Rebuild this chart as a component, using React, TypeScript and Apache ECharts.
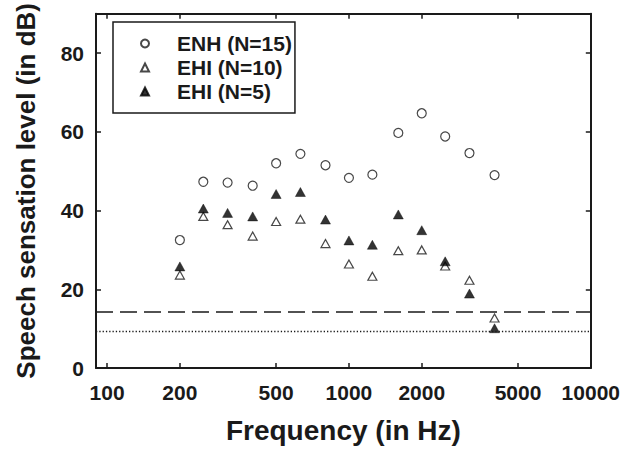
import React, { useEffect, useRef } from "react";
import * as echarts from "echarts";

// ---- Data ----
const FREQUENCIES_HZ = [200, 250, 315, 400, 500, 630, 800, 1000, 1250, 1600, 2000, 2500, 3150, 4000];
const ENH_N15 = [32.5, 47.3, 47.1, 46.3, 52.0, 54.4, 51.5, 48.3, 49.1, 59.7, 64.7, 58.8, 54.6, 49.0];
const EHI_N10 = [23.6, 38.5, 36.4, 33.5, 37.2, 37.8, 31.6, 26.4, 23.3, 29.8, 30.0, 25.9, 22.3, 12.7];
const EHI_N5 = [25.8, 40.5, 39.4, 38.5, 44.2, 44.7, 37.7, 32.4, 31.3, 39.0, 35.0, 27.1, 18.9, 10.1];

const SERIES_NAMES = ["ENH (N=15)", "EHI (N=10)", "EHI (N=5)"];

const X_TICKS_HZ = [100, 200, 500, 1000, 2000, 5000, 10000];
const Y_TICKS = [0, 20, 40, 60, 80];
const X_MIN_HZ = 90;
const X_MAX_HZ = 10000;
const Y_MIN = 0;
const Y_MAX = 90;

const REF_LINE_DASHED = 14.3;
const REF_LINE_DOTTED = 9.45;

const X_TITLE = "Frequency (in Hz)";
const Y_TITLE = "Speech sensation level (in dB)";

const FONT = "'Liberation Sans', Arial, Helvetica, sans-serif";
const INK = "#1a1a1a";

export default function App() {
  const ref = useRef<HTMLDivElement>(null);

  useEffect(() => {
    if (!ref.current) return;
    const chart = echarts.init(ref.current, null, { renderer: "svg" });

    const lx = (f: number) => Math.log10(f);
    const xTickVals = X_TICKS_HZ.map(lx);
    const toPoints = (vals: number[]) => FREQUENCIES_HZ.map((f, i) => [lx(f), vals[i]]);

    const axisLine = { show: true, onZero: false, lineStyle: { color: INK, width: 2 } };
    const axisTick = (vals: number[]) => ({
      show: true,
      inside: true,
      length: 5,
      customValues: vals,
      lineStyle: { color: INK, width: 1.5 },
    });

    const xBase = {
      type: "value" as const,
      min: lx(X_MIN_HZ),
      max: lx(X_MAX_HZ),
      splitLine: { show: false },
      axisLine,
      axisTick: axisTick(xTickVals),
    };
    const yBase = {
      type: "value" as const,
      min: Y_MIN,
      max: Y_MAX,
      splitLine: { show: false },
      axisLine,
      axisTick: axisTick(Y_TICKS),
    };

    chart.setOption({
      animation: false,
      backgroundColor: "#ffffff",
      textStyle: { fontFamily: FONT, fontWeight: "bold", color: INK },
      grid: { left: 96, right: 32, top: 11, bottom: 82, containLabel: false },
      legend: {
        orient: "vertical",
        left: 113,
        top: 22,
        padding: [11, 3, 11, 27],
        itemWidth: 8,
        itemHeight: 8,
        itemGap: 3,
        borderColor: INK,
        borderWidth: 1.5,
        backgroundColor: "#ffffff",
        textStyle: {
          fontFamily: FONT,
          fontWeight: "bold",
          fontSize: 21,
          lineHeight: 21,
          color: INK,
          padding: [0, 0, 0, 23],
        },
        data: SERIES_NAMES,
      },
      xAxis: [
        {
          ...xBase,
          position: "bottom",
          name: X_TITLE,
          nameLocation: "middle",
          nameGap: 48,
          nameTextStyle: { fontFamily: FONT, fontWeight: "bold", fontSize: 28, color: INK },
          axisLabel: {
            show: true,
            margin: 14,
            customValues: xTickVals,
            fontFamily: FONT,
            fontWeight: "bold",
            fontSize: 21,
            color: INK,
            formatter: (v: number) => String(Math.round(Math.pow(10, v))),
          },
        },
        { ...xBase, position: "top", axisLabel: { show: false } },
      ],
      yAxis: [
        {
          ...yBase,
          position: "left",
          name: Y_TITLE,
          nameLocation: "middle",
          nameGap: 57,
          nameRotate: 90,
          nameTextStyle: { fontFamily: FONT, fontWeight: "bold", fontSize: 26, color: INK },
          axisLabel: {
            show: true,
            margin: 12,
            customValues: Y_TICKS,
            fontFamily: FONT,
            fontWeight: "bold",
            fontSize: 21,
            color: INK,
          },
        },
        { ...yBase, position: "right", axisLabel: { show: false } },
      ],
      series: [
        {
          name: SERIES_NAMES[0],
          type: "scatter",
          symbol: "circle",
          symbolSize: 9,
          itemStyle: { color: "#ffffff", borderColor: INK, borderWidth: 1.2 },
          data: toPoints(ENH_N15),
          markLine: {
            silent: true,
            symbol: ["none", "none"],
            label: { show: false },
            data: [
              { yAxis: REF_LINE_DASHED, lineStyle: { type: [17, 7], width: 1.5, color: INK } },
              { yAxis: REF_LINE_DOTTED, lineStyle: { type: [1.3, 2], width: 1.3, color: INK } },
            ],
          },
        },
        {
          name: SERIES_NAMES[1],
          type: "scatter",
          symbol: "triangle",
          symbolSize: [9, 8],
          itemStyle: { color: "#ffffff", borderColor: INK, borderWidth: 1.2 },
          data: toPoints(EHI_N10),
        },
        {
          name: SERIES_NAMES[2],
          type: "scatter",
          symbol: "triangle",
          symbolSize: [10, 9],
          itemStyle: { color: "#000000", borderColor: "#000000", borderWidth: 0.5 },
          data: toPoints(EHI_N5),
        },
      ],
    });

    return () => chart.dispose();
  }, []);

  return (
    <div
      ref={ref}
      style={{ position: "fixed", left: 0, top: 0, width: 623, height: 450, background: "#fff" }}
    />
  );
}
